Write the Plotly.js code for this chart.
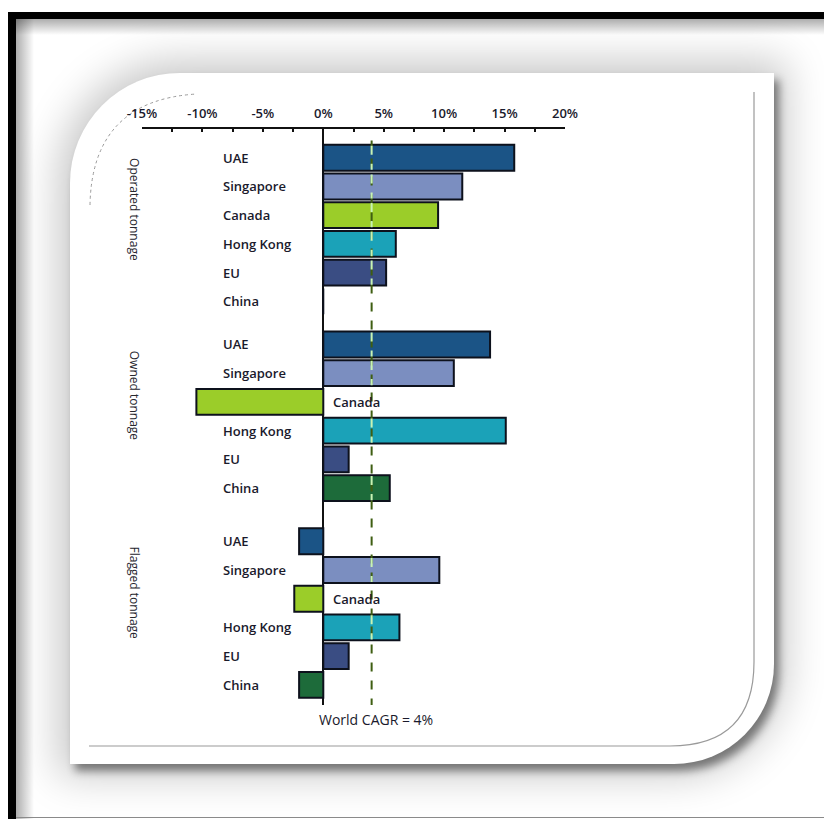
<!DOCTYPE html>
<html>
<head>
<meta charset="utf-8">
<script src="https://cdn.plot.ly/plotly-3.0.1.min.js"></script>
<style>
  html, body { margin: 0; padding: 0; width: 824px; height: 819px; background: #fff; overflow: hidden; }
  .blk { position: absolute; background: #000; }
  #shadeLeft { position: absolute; left: 16px; top: 19px; width: 18px; height: 800px;
    background: linear-gradient(to right, rgba(0,0,0,0.32), rgba(0,0,0,0)); }
  #shadeTop { position: absolute; left: 16px; top: 19px; width: 808px; height: 16px;
    background: linear-gradient(to bottom, rgba(0,0,0,0.32), rgba(0,0,0,0)); }
  #bottomLine { position: absolute; left: 16px; top: 817px; width: 808px; height: 1px; background: #8a8a8a; }
  #card {
    position: absolute; left: 70px; top: 73px; width: 704px; height: 691px;
    background: #fff;
    border-radius: 110px 0 100px 0;
    box-shadow: 0 0 40px 12px rgba(0,0,0,0.22), 5px 7px 9px rgba(0,0,0,0.45);
  }
  #deco { position: absolute; left: 0; top: 0; }
  #chart { position: absolute; left: 0; top: 0; width: 824px; height: 819px; }
</style>
</head>
<body>
<div class="blk" style="left:8px; top:12px; width:8px; height:807px;"></div>
<div class="blk" style="left:8px; top:12px; width:816px; height:7px;"></div>
<div id="shadeLeft"></div>
<div id="shadeTop"></div>
<div id="bottomLine"></div>
<div id="card"></div>
<svg id="deco" width="824" height="819">
  <path d="M754 92 L754 662 Q754 746 670 746 L89 746" fill="none" stroke="#9a9a9a" stroke-width="1.2"/>
  <path d="M90 205 Q92 100 197 94" fill="none" stroke="#9a9a9a" stroke-width="1" stroke-dasharray="3 3"/>
</svg>
<div id="chart"></div>
<script>
// Growth rates (%) per country for each tonnage measure
const countries = ['UAE', 'Singapore', 'Canada', 'Hong Kong', 'EU', 'China'];
const groups = ['Operated tonnage', 'Owned tonnage', 'Flagged tonnage'];
const operated = [15.8, 11.5, 9.5, 6.0, 5.2, 0];
const owned = [13.8, 10.8, -10.5, 15.1, 2.1, 5.5];
const flagged = [-2.0, 9.6, -2.4, 6.3, 2.1, -2.0];
const worldCagr = 4;
const tickValues = [-15, -10, -5, 0, 5, 10, 15, 20];
const tickLabels = ['-15%', '-10%', '-5%', '0%', '5%', '10%', '15%', '20%'];

const countryColors = {
  'UAE': '#1b5486',
  'Singapore': '#7b8ec0',
  'Canada': '#9bcd29',
  'Hong Kong': '#1ba2b8',
  'EU': '#3a4d83',
  'China': '#1d6b3a'
};

const labelFont = { family: 'Open Sans, sans-serif', size: 13, color: '#1a1a2c', weight: 600 };

// vertical layout: row index inside each group plus a group offset
const groupStart = [0, 6.5, 13.35];
const seriesByGroup = [operated, owned, flagged];

const ys = [], xs = [], colors = [], annotations = [], shapes = [];
seriesByGroup.forEach((vals, g) => {
  vals.forEach((v, i) => {
    const y = groupStart[g] + i;
    ys.push(y);
    xs.push(v);
    colors.push(countryColors[countries[i]]);
    const labelRight = countries[i] === 'Canada' && v < 0;
    annotations.push({
      xref: 'x', yref: 'y', x: labelRight ? 0.6 : -8.5, y: y,
      xanchor: 'left', yanchor: 'middle', showarrow: false,
      text: countries[i], font: labelFont
    });
  });
  annotations.push({
    xref: 'paper', yref: 'y', x: -0.018, y: groupStart[g] + 1.8,
    xanchor: 'center', yanchor: 'middle', showarrow: false, textangle: 90,
    text: groups[g],
    font: { family: 'Open Sans, sans-serif', size: 12, color: '#26262e' }
  });
});

annotations.push({
  xref: 'x', yref: 'paper', x: 0, y: -0.026, xanchor: 'left', yanchor: 'middle',
  xshift: -6, showarrow: false, text: 'World CAGR = ' + worldCagr + '%',
  font: { family: 'Open Sans, sans-serif', size: 14, color: '#1a1a2c' }
});

// world average reference line
shapes.push({
  type: 'line', xref: 'x', yref: 'y', x0: worldCagr, x1: worldCagr, y0: -0.6, y1: 19.05,
  line: { color: '#3f5e12', width: 2, dash: 'dash' }, layer: 'above'
});
// lighter dashes where the reference line crosses a bar
xs.forEach((v, k) => {
  if (v > worldCagr) {
    shapes.push({
      type: 'line', xref: 'x', yref: 'y', x0: worldCagr, x1: worldCagr,
      y0: ys[k] - 0.42, y1: ys[k] + 0.42,
      line: { color: '#c8f3b4', width: 2, dash: 'dash' }, layer: 'above'
    });
  }
});

const trace = {
  type: 'bar', orientation: 'h', x: xs, y: ys, width: 0.9,
  marker: { color: colors, line: { color: '#0d111c', width: 2 } },
  hoverinfo: 'skip'
};

const layout = {
  width: 824, height: 819,
  margin: { l: 142, r: 259, t: 129, b: 114 },
  paper_bgcolor: 'rgba(0,0,0,0)', plot_bgcolor: 'rgba(0,0,0,0)',
  showlegend: false,
  xaxis: {
    side: 'top', range: [-15, 20], fixedrange: true,
    tickvals: tickValues, ticktext: tickLabels,
    ticks: 'inside', ticklen: 3, tickwidth: 2, tickcolor: '#111',
    ticklabelstandoff: 4,
    minor: { tickvals: [-12.5, -7.5, -2.5, 2.5, 7.5, 12.5, 17.5], ticks: 'inside', ticklen: 3, tickwidth: 2, tickcolor: '#111' },
    showline: true, linecolor: '#111', linewidth: 2,
    showgrid: false,
    zeroline: true, zerolinecolor: '#111', zerolinewidth: 2,
    tickfont: { family: 'Open Sans, sans-serif', size: 13, color: '#1a1a2c', weight: 600 }
  },
  yaxis: {
    range: [19.05, -1.0], showgrid: false, zeroline: false, showticklabels: false,
    showline: false, fixedrange: true
  },
  annotations: annotations,
  shapes: shapes,
  font: { family: 'Open Sans, sans-serif' }
};

Plotly.newPlot('chart', [trace], layout, { displayModeBar: false, staticPlot: true });
</script>
</body>
</html>
